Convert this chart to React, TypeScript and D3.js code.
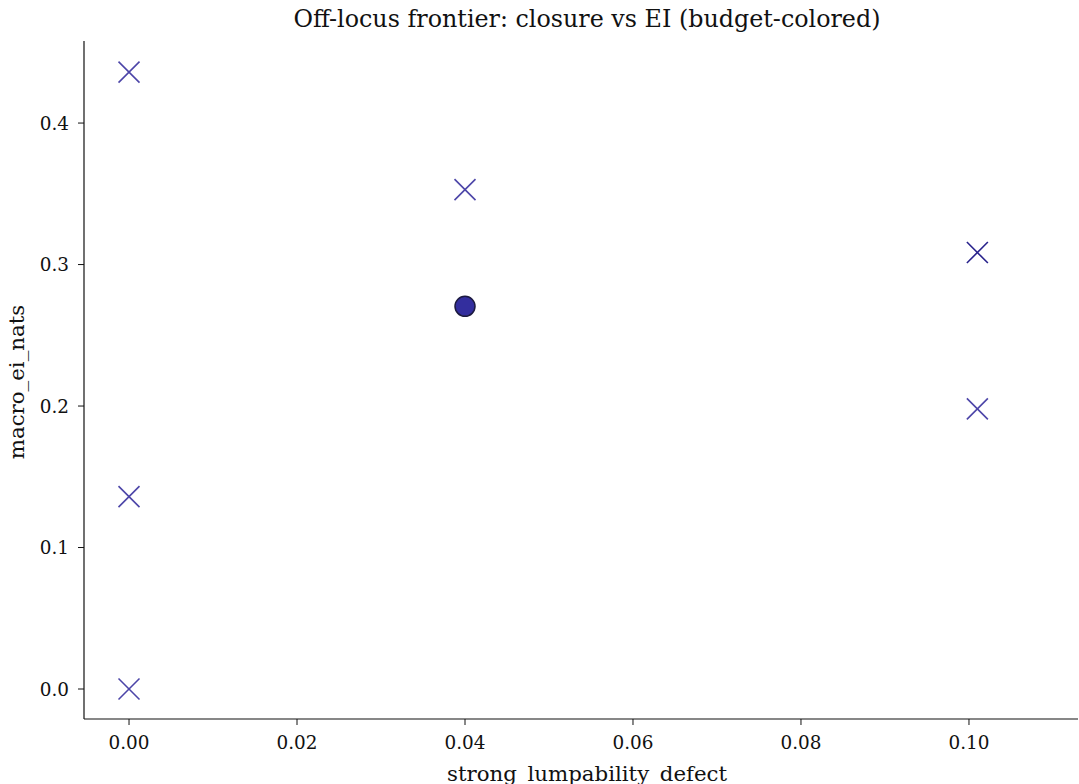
import React from "react";
import * as d3 from "d3";

const xValues = [0.0, 0.0, 0.0, 0.04, 0.04, 0.101, 0.101];
const yValues = [0.436, 0.136, 0.0, 0.353, 0.2705, 0.3085, 0.198];
const markerKinds = ["x", "x", "x", "x", "o", "x", "x"];
const budgetShade = [0.4, 0.4, 0.4, 0.4, 0.2, 0.05, 0.4];
const xTicks = [0.0, 0.02, 0.04, 0.06, 0.08, 0.1];
const yTicks = [0.0, 0.1, 0.2, 0.3, 0.4];

const W = 1079;
const H = 784;
const left = 84;
const right = 1078;
const top = 41;
const bottom = 719;

export default function App() {
  const x = d3.scaleLinear().domain([-0.00536, 0.11298]).range([left, right]);
  const y = d3.scaleLinear().domain([-0.0212, 0.458]).range([bottom, top]);
  const color = d3
    .scaleLinear<string>()
    .domain([0, 0.4])
    .range(["#231d88", "#4c45a8"]);
  const font = "'DejaVu Serif', serif";
  return (
    <svg
      width={W}
      height={H}
      style={{ position: "absolute", left: 0, top: 0, background: "#fff" }}
      fontFamily={font}
    >
      <text x={587} y={27} textAnchor="middle" fontSize={23.8} fill="#111">
        Off-locus frontier: closure vs EI (budget-colored)
      </text>
      {/* spines */}
      <line x1={left} x2={left} y1={top} y2={bottom} stroke="#111" strokeWidth={1.2} />
      <line x1={left} x2={right} y1={bottom} y2={bottom} stroke="#111" strokeWidth={1.2} />
      {xTicks.map((t) => (
        <g key={"xt" + t}>
          <line x1={x(t)} x2={x(t)} y1={bottom} y2={bottom + 6} stroke="#111" strokeWidth={1} />
          <text x={x(t)} y={bottom + 30} textAnchor="middle" fontSize={18.4} fill="#111">
            {t.toFixed(2)}
          </text>
        </g>
      ))}
      {yTicks.map((t) => (
        <g key={"yt" + t}>
          <line x1={left - 6} x2={left} y1={y(t)} y2={y(t)} stroke="#111" strokeWidth={1} />
          <text x={left - 15} y={y(t) + 6.5} textAnchor="end" fontSize={18.4} fill="#111">
            {t.toFixed(1)}
          </text>
        </g>
      ))}
      <text x={587} y={781} textAnchor="middle" fontSize={21.3} fill="#111">
        strong_lumpability_defect
      </text>
      <text
        transform={`translate(24, 382) rotate(-90)`}
        textAnchor="middle"
        fontSize={21.3}
        fill="#111"
      >
        macro_ei_nats
      </text>
      {xValues.map((xv, i) => {
        const cx = x(xv);
        const cy = y(yValues[i]);
        const c = color(budgetShade[i]);
        if (markerKinds[i] === "o") {
          return (
            <circle key={i} cx={cx} cy={cy} r={10} fill="#332e9e" stroke="#1c1a40" strokeWidth={1.5} />
          );
        }
        const s = 10.5;
        return (
          <g key={i} stroke={c} strokeWidth={1.6} strokeLinecap="butt">
            <line x1={cx - s} y1={cy - s} x2={cx + s} y2={cy + s} />
            <line x1={cx - s} y1={cy + s} x2={cx + s} y2={cy - s} />
          </g>
        );
      })}
    </svg>
  );
}
